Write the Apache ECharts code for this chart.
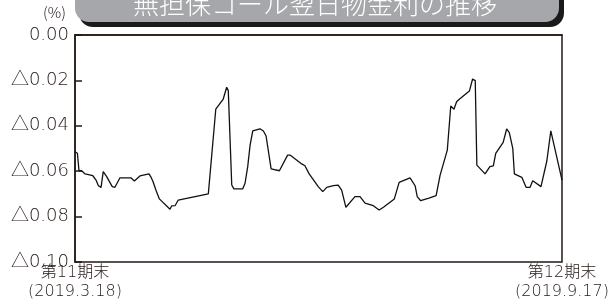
<!DOCTYPE html>
<html>
<head>
<meta charset="utf-8">
<script src="https://cdn.jsdelivr.net/npm/echarts@6/dist/echarts.min.js"></script>
<style>
html, body { margin: 0; padding: 0; background: #fff; }
#chart { width: 614px; height: 306px; }
</style>
</head>
<body>
<div id="chart"></div>
<script>
// 日数（第11期末 2019.3.18 からの経過日）
const days = [
	0, 0.9, 1.5, 2.5, 3.8, 6.7, 7.9, 8.8, 9.8, 10.6,
	11.9, 14.0, 15.0, 16.9, 21.0, 22.3, 24.4, 27.8, 28.6, 29.4,
	30.4, 31.7, 35.7, 36.3, 37.6, 38.8, 50.1, 52.9, 55.7, 57.0,
	57.6, 58.9, 59.7, 63.0, 63.9, 64.9, 65.8, 66.8, 69.5, 70.8,
	71.8, 73.7, 76.8, 79.9, 80.8, 85.2, 86.4, 87.1, 88.0, 91.4,
	93.1, 94.6, 97.1, 98.9, 100.2, 101.8, 105.2, 107.1, 109.0, 112.1,
	114.3, 115.9, 120.0, 121.8, 125.9, 127.8, 128.6, 129.9, 133.0, 135.7,
	137.2, 139.9, 141.2, 142.4, 143.4, 144.4, 148.2, 149.4, 150.4, 151.0,
	154.1, 155.9, 157.2, 158.1, 160.9, 162.2, 163.2, 164.5, 165.1, 167.9,
	169.5, 171.0, 172.0, 175.1, 177.3, 178.8, 183
]
// 無担保コール翌日物金利（%）
const rates = [
	-0.0514, -0.0521, -0.0598, -0.0598, -0.0612, -0.0620, -0.0639, -0.0664, -0.0671, -0.0602,
	-0.0624, -0.0668, -0.0671, -0.0629, -0.0629, -0.0643, -0.0621, -0.0612, -0.0627, -0.0649,
	-0.0683, -0.0722, -0.0768, -0.0753, -0.0752, -0.0727, -0.0700, -0.0327, -0.0282, -0.0230,
	-0.0245, -0.0661, -0.0678, -0.0678, -0.0653, -0.0580, -0.0485, -0.0422, -0.0413, -0.0423,
	-0.0445, -0.0590, -0.0598, -0.0529, -0.0529, -0.0568, -0.0576, -0.0573, -0.0612, -0.0668,
	-0.0690, -0.0671, -0.0664, -0.0661, -0.0683, -0.0759, -0.0712, -0.0712, -0.0741, -0.0752,
	-0.0771, -0.0759, -0.0722, -0.0649, -0.0629, -0.0664, -0.0712, -0.0730, -0.0719, -0.0708,
	-0.0617, -0.0507, -0.0313, -0.0327, -0.0294, -0.0283, -0.0247, -0.0194, -0.0201, -0.0573,
	-0.0612, -0.0580, -0.0577, -0.0521, -0.0473, -0.0414, -0.0430, -0.0499, -0.0612, -0.0627,
	-0.0671, -0.0671, -0.0642, -0.0668, -0.0555, -0.0422, -0.0639
]
const xTickDays = [0, 183]
const xTickLabels = ['第11期末\n(2019.3.18)', '第12期末\n(2019.9.17)']
const yTicks = [0, -0.02, -0.04, -0.06, -0.08, -0.1]

const ink = '#231815'
const font = '"Noto Sans CJK JP", "Noto Sans", sans-serif'
const numFont = '"DejaVu Sans", "Noto Sans CJK JP", sans-serif'

const mychart = echarts.init(document.getElementById('chart'))
mychart.setOption({
	animation: false,
	textStyle: { fontFamily: font },
	grid: {
		left: 75,
		right: 52,
		top: 35,
		bottom: 44,
		show: true,
		borderColor: ink,
		borderWidth: 1.5,
	},
	graphic: [
		// タイトルの帯
		{
			type: 'rect',
			shape: { x: 79, y: -20, width: 485, height: 47, r: 14 },
			style: { fill: '#1a1a1a' },
		},
		{
			type: 'rect',
			shape: { x: 75, y: -20, width: 484, height: 42, r: 14 },
			style: { fill: '#a6a7aa' },
		},
		{
			type: 'text',
			left: 133,
			top: -9,
			style: {
				text: '無担保コール翌日物金利の推移',
				fill: '#fff',
				font: '300 26px ' + font,
			},
		},
		{
			type: 'text',
			left: 43,
			top: 5,
			style: {
				text: '(%)',
				fill: ink,
				font: '300 15px ' + font,
			},
		},
	],
	xAxis: {
		type: 'value',
		min: 0,
		max: 183,
		splitLine: { show: false },
		axisLine: { show: true, lineStyle: { color: ink, width: 1.5 } },
		axisTick: { show: false },
		axisLabel: {
			customValues: xTickDays,
			showMinLabel: true,
			showMaxLabel: true,
			color: ink,
			fontFamily: numFont,
			fontWeight: 200,
			fontSize: 16,
			lineHeight: 19,
			margin: 1,
			formatter: (v) => xTickLabels[xTickDays.indexOf(v)] || '',
		},
	},
	yAxis: {
		type: 'value',
		min: -0.1,
		max: 0,
		interval: 0.02,
		splitLine: { show: false },
		axisLine: { show: true, lineStyle: { color: ink, width: 1.5 } },
		axisTick: {
			show: true,
			inside: true,
			length: 7,
			lineStyle: { color: ink, width: 1.5 },
		},
		axisLabel: {
			customValues: yTicks,
			color: ink,
			fontFamily: numFont,
			fontWeight: 200,
			fontSize: 18,
			margin: 6,
			formatter: (v) => (Math.abs(v) < 1e-9 ? '0.00' : '△' + Math.abs(v).toFixed(2)),
		},
	},
	series: [
		{
			type: 'line',
			data: days.map((d, i) => [d, rates[i]]),
			symbol: 'none',
			lineStyle: { color: '#111', width: 1.3 },
		},
	],
})
</script>
</body>
</html>
